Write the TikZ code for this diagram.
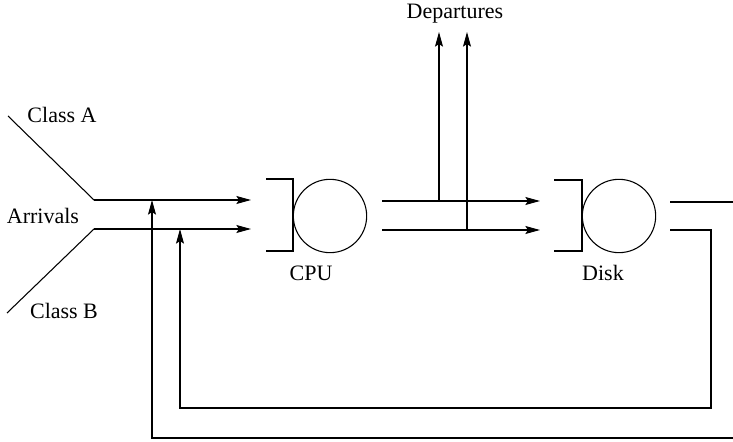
\documentclass[tikz,border=0pt]{standalone}
\usepackage{fontspec}
\setmainfont{Liberation Serif}
\usetikzlibrary{arrows.meta}

\tikzset{
    server/.style={circle, draw, line width=0.8pt, inner sep=0pt, minimum size=55pt},
    lbl/.style={inner sep=0pt, font=\fontsize{16.5}{19}\selectfont},
    flow/.style={line width=0.8pt, -{Stealth[length=11pt, width=6pt, inset=2pt]}},
    wire/.style={line width=0.8pt}
}

\begin{document}
\begin{tikzpicture}[x=0.75pt, y=-0.75pt]
    \useasboundingbox (0,0) rectangle (733,442);
    \clip (0,0) rectangle (733,442);

    % servers
    \node[server] (cpu) at (330,216) {};
    \node[server] (disk) at (619,216) {};

    % arrivals
    \coordinate (a0) at (8,116);
    \coordinate (a1) at (94,200);
    \coordinate (b0) at (7,313);
    \coordinate (b1) at (94,229);
    \coordinate (cpua) at (251,200);
    \coordinate (cpub) at (251,229);

    % cpu out
    \coordinate (oa) at (382,201);
    \coordinate (ob) at (382,230);
    \coordinate (diska) at (540,201);
    \coordinate (diskb) at (540,230);
    \coordinate (da) at (439,201);
    \coordinate (db) at (467,230);
    \coordinate (dta) at (439,32);
    \coordinate (dtb) at (467,32);

    % disk out and feedback
    \coordinate (fa) at (670,202);
    \coordinate (fb) at (670,230);
    \coordinate (fa1) at (745,202);
    \coordinate (fa2) at (745,438);
    \coordinate (fa3) at (152,438);
    \coordinate (fa4) at (152,200);
    \coordinate (fb1) at (711,230);
    \coordinate (fb2) at (711,408);
    \coordinate (fb3) at (180,408);
    \coordinate (fb4) at (180,229);

    % queues
    \draw[wire] (266,179) -- (293,179) -- (293,251) -- (266,251);
    \draw[wire] (554,180) -- (582,180) -- (582,251) -- (554,251);

    \draw[wire] (a0) -- (a1);
    \draw[wire] (b0) -- (b1);
    \draw[flow] (a1) -- (cpua);
    \draw[flow] (b1) -- (cpub);

    \draw[flow] (oa) -- (diska);
    \draw[flow] (ob) -- (diskb);
    \draw[flow] (da) -- (dta);
    \draw[flow] (db) -- (dtb);

    \draw[flow] (fa) -- (fa1) -- (fa2) -- (fa3) -- (fa4);
    \draw[flow] (fb) -- (fb1) -- (fb2) -- (fb3) -- (fb4);

    \node[lbl] (dep) at (455,14) {Departures};
    \node[lbl] (clsa) at (62,115) {Class A};
    \node[lbl] (arr) at (43,216) {Arrivals};
    \node[lbl] (clsb) at (64,311) {Class B};
    \node[lbl] (cpul) at (311,273) {CPU};
    \node[lbl] (diskl) at (603,273) {Disk};
\end{tikzpicture}
\end{document}
